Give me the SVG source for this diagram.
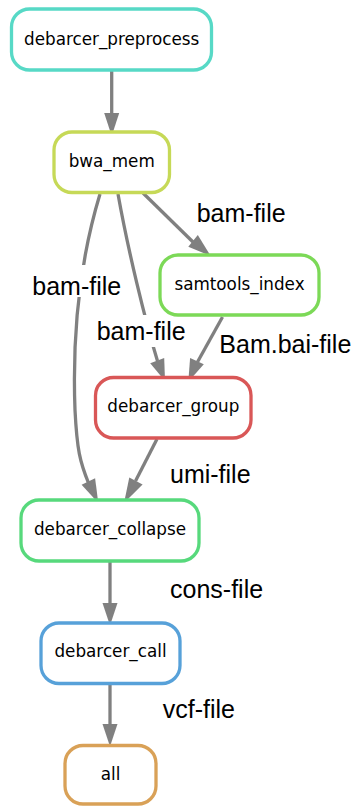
<svg xmlns="http://www.w3.org/2000/svg" width="353" height="807" viewBox="0 0 353 807">
  <style>
    .node rect { fill: #ffffff; stroke-width: 3.3; }
    .node text { font-family: "DejaVu Sans", sans-serif; font-size: 16.8px; fill: #000000; text-anchor: middle; }
    .edge path { fill: none; stroke: #808080; stroke-width: 3.3; }
    .edge polygon { fill: #808080; stroke: none; }
    .label { font-family: "Liberation Sans", Arial, sans-serif; font-size: 25px; fill: #000000; }
    .mask { fill: #ffffff; stroke: none; }
  </style>
  <rect width="353" height="807" fill="#ffffff"/>

  <!-- connectors -->
  <g id="edges" class="edge">
    <!-- debarcer_preprocess -> bwa_mem -->
    <path d="M111.7,71 L111.7,114"/>
    <polygon points="104.2,113 119.2,113 111.7,136"/>
    <!-- bwa_mem -> samtools_index -->
    <path d="M143,193 L194,243"/>
    <polygon points="188.3,246.8 197.8,235.1 210.7,256"/>
    <!-- bwa_mem -> debarcer_group -->
    <path d="M118,194 C128,250 145,320 157.5,361"/>
    <polygon points="150.2,363.2 164.2,357.9 165,381"/>
    <!-- bwa_mem -> debarcer_collapse -->
    <path d="M100,194 C80,260 72,330 75,410 C77,450 80,462 88.5,483"/>
    <polygon points="81.6,484.7 95.1,478.2 98.3,503"/>
    <!-- samtools_index -> debarcer_group -->
    <path d="M222.5,317 L197.5,362"/>
    <polygon points="190.1,358 203.8,364.2 188.3,381.7"/>
    <!-- debarcer_group -> debarcer_collapse -->
    <path d="M157,439 L135.5,481"/>
    <polygon points="129.3,477.4 142.6,484.4 124,503"/>
    <!-- debarcer_collapse -> debarcer_call -->
    <path d="M110,562 L110,604"/>
    <polygon points="102.5,603 117.5,603 110,625.5"/>
    <!-- debarcer_call -> all -->
    <path d="M110,685 L110,725"/>
    <polygon points="102.5,724 117.5,724 110,746.5"/>
  </g>

  <!-- edge label backgrounds hide the lines passing under them -->
  <g id="label-backgrounds">
    <rect class="mask" x="66" y="265" width="30" height="32"/>
    <rect class="mask" x="132" y="315" width="30" height="32"/>
  </g>

  <g id="edge-labels">
    <text class="label" x="196.7" y="221.7">bam-file</text>
    <text class="label" x="32.3" y="295">bam-file</text>
    <text class="label" x="96.7" y="340">bam-file</text>
    <text class="label" x="219.3" y="353">Bam.bai-file</text>
    <text class="label" x="170" y="483.3">umi-file</text>
    <text class="label" x="170" y="598.3">cons-file</text>
    <text class="label" x="162.7" y="718.3">vcf-file</text>
  </g>

  <!-- nodes -->
  <g id="debarcer_preprocess" class="node">
    <rect x="11.5" y="9" width="200" height="61" rx="18" ry="18" stroke="#57d9c6"/>
    <text x="111.7" y="44.5">debarcer_preprocess</text>
  </g>
  <g id="bwa_mem" class="node">
    <rect x="54" y="132" width="115.5" height="60.5" rx="18" ry="18" stroke="#c6d957"/>
    <text x="111.7" y="167">bwa_mem</text>
  </g>
  <g id="samtools_index" class="node">
    <rect x="160" y="255" width="159" height="60" rx="18" ry="18" stroke="#7cd957"/>
    <text x="239.5" y="290">samtools_index</text>
  </g>
  <g id="debarcer_group" class="node">
    <rect x="95.5" y="377.5" width="155.5" height="60.5" rx="18" ry="18" stroke="#d95757"/>
    <text x="173.3" y="412">debarcer_group</text>
  </g>
  <g id="debarcer_collapse" class="node">
    <rect x="21" y="500" width="178" height="61" rx="18" ry="18" stroke="#57d97c"/>
    <text x="110" y="535">debarcer_collapse</text>
  </g>
  <g id="debarcer_call" class="node">
    <rect x="41" y="623" width="139" height="60.5" rx="18" ry="18" stroke="#57a1d9"/>
    <text x="110.5" y="656.7">debarcer_call</text>
  </g>
  <g id="all" class="node">
    <rect x="65" y="745.5" width="91" height="58.5" rx="18" ry="18" stroke="#d9a157"/>
    <text x="110.5" y="780">all</text>
  </g>
</svg>
